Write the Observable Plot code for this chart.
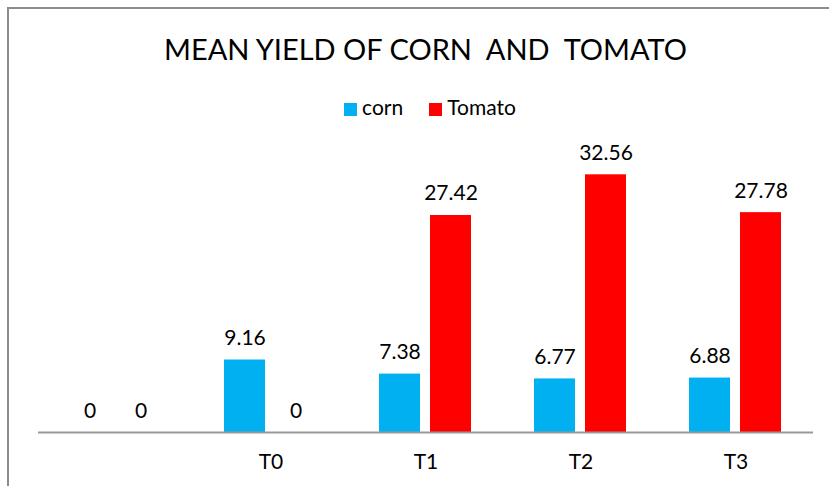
<!DOCTYPE html>
<html>
<head>
<meta charset="utf-8">
<script src="https://cdn.jsdelivr.net/npm/d3@7"></script>
<script src="https://cdn.jsdelivr.net/npm/@observablehq/plot@0.6"></script>
<style>
  html, body { margin: 0; padding: 0; background: #fff; }
  body { width: 829px; height: 486px; position: relative; overflow: hidden; font-family: Lato, "Open Sans", sans-serif; color: #000; }
  #frame { position: absolute; left: 7px; top: 7px; right: -10px; bottom: -10px; border-left: 2px solid #8c8c8c; border-top: 2px solid #8c8c8c; }
  #title { position: absolute; left: 0; width: 851px; top: 31px; text-align: center; font-size: 29px; white-space: pre; line-height: 36px; }
  #legend { position: absolute; left: 0; width: 860px; top: 94px; text-align: center; font-size: 21px; line-height: 26px; }
  #legend span.sw { display: inline-block; width: 13px; height: 13px; margin-right: 5px; vertical-align: -1px; }
  #legend span.item { margin: 0 13px; }
  #chart { position: absolute; left: 0; top: 130px; }
</style>
</head>
<body>
<div id="frame"></div>
<div id="title">MEAN YIELD OF CORN  AND  TOMATO</div>
<div id="legend"></div>
<div id="chart"></div>
<script>
const categories = ["", "T0", "T1", "T2", "T3"];
const seriesNames = ["corn", "Tomato"];
const cornValues = [0, 9.16, 7.38, 6.77, 6.88];
const tomatoValues = [0, 0, 27.42, 32.56, 27.78];
const seriesColors = ["#00B0F0", "#FF0000"];

const data = [];
categories.forEach((c, i) => {
  data.push({cat: c, series: "corn", value: cornValues[i]});
  data.push({cat: c, series: "Tomato", value: tomatoValues[i]});
});

// legend
const legend = document.getElementById("legend");
seriesNames.forEach((s, i) => {
  const item = document.createElement("span");
  item.className = "item";
  item.innerHTML = `<span class="sw" style="background:${seriesColors[i]}"></span>${s}`;
  legend.appendChild(item);
});

const plot = Plot.plot({
  width: 829,
  height: 356,
  marginLeft: 36,
  marginRight: 14,
  marginTop: 25,
  marginBottom: 54,
  style: {fontFamily: "Lato, 'Open Sans', sans-serif", fontSize: "21px", color: "#000", background: "transparent"},
  fx: {domain: categories, padding: 0, label: null},
  x: {domain: seriesNames, paddingInner: 0.19, paddingOuter: 0.6, axis: null},
  y: {domain: [0, 35], axis: null},
  color: {domain: seriesNames, range: seriesColors},
  marks: [
    Plot.barY(data, {fx: "cat", x: "series", y: "value", fill: "series"}),
    Plot.text(data, {fx: "cat", x: "series", y: "value", text: d => String(d.value), lineAnchor: "bottom", dy: -15, fontSize: 21, fill: "#000"}),
    Plot.ruleY([0], {stroke: "#999", strokeWidth: 2}),
    Plot.axisFx({anchor: "bottom", tickSize: 0, tickPadding: 22, fontSize: 21, label: null})
  ]
});
document.getElementById("chart").appendChild(plot);
</script>
</body>
</html>
